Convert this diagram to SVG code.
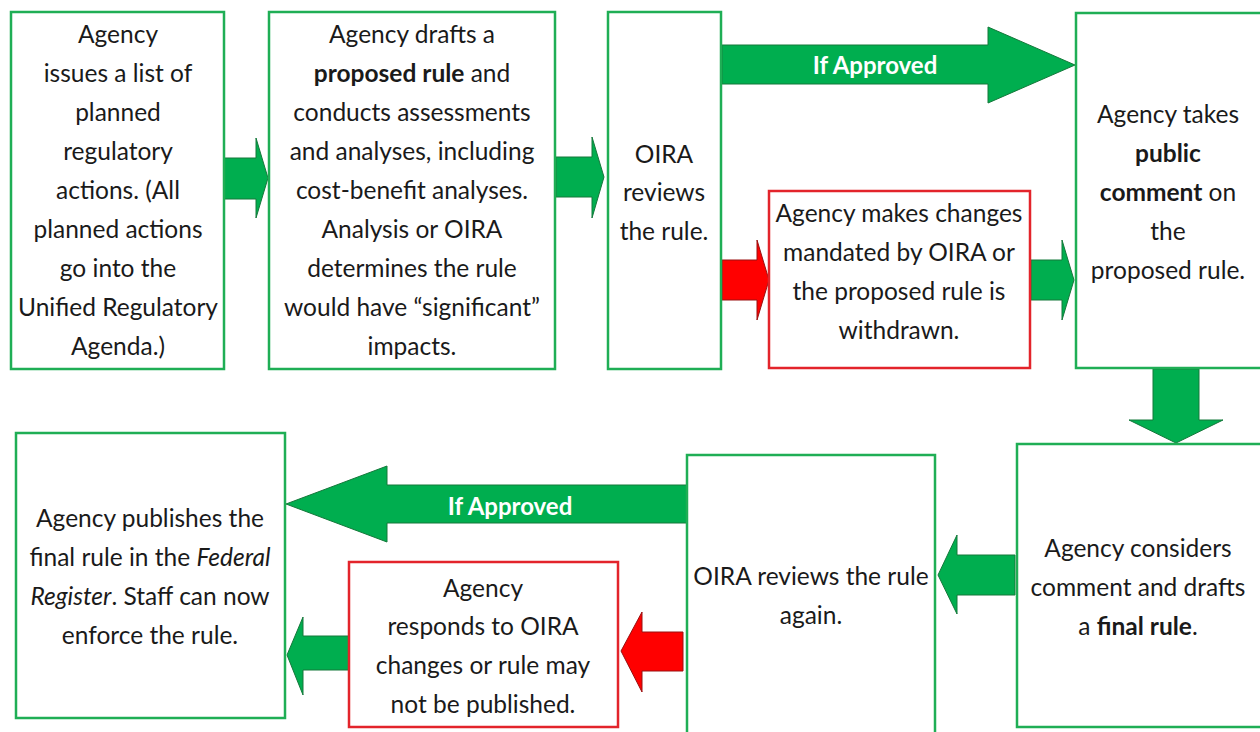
<svg xmlns="http://www.w3.org/2000/svg" width="1260" height="732" viewBox="0 0 1260 732">
<style>
.g{fill:#fff;stroke:#1fae55;stroke-width:2.5}
.r{fill:#fff;stroke:#e3242b;stroke-width:2.5}
.ga{fill:#00ae4f;stroke:#14783a;stroke-width:1}
.ra{fill:#ff0000;stroke:#9a1010;stroke-width:1}
text{font-family:Lato,"Liberation Sans",sans-serif;font-size:24.5px;fill:#1a1a1a;text-anchor:middle}
.b{font-weight:bold}
.i{font-style:italic}
.lbl{fill:#fff;font-weight:bold;font-size:24px}
</style>
<rect width="1260" height="732" fill="#fff"/>
<g id="connectors">
<polygon class="ga" points="224,158 256,158 256,138 268,178 256,218 256,199 224,199"/>
<polygon class="ga" points="556,157 592,157 592,137 604,177 592,218 592,197 556,197"/>
<polygon class="ga" points="722,45 988,45 988,27 1075,65 988,103 988,84 722,84"/>
<polygon class="ra" points="722,260 757,260 757,240 769,280 757,320 757,300 722,300"/>
<polygon class="ga" points="1031,260 1062,260 1062,240 1074,280 1062,320 1062,300 1031,300"/>
<polygon class="ga" points="1153,369 1199,369 1199,420 1223,420 1176,443 1129,420 1153,420"/>
<polygon class="ga" points="1015,555 957,555 957,535 938,575 957,614 957,595 1015,595"/>
<polygon class="ga" points="687,485 387,485 387,466 286,504 387,542 387,523 687,523"/>
<polygon class="ra" points="683,632 642,632 642,612 621,651 642,692 642,671 683,671"/>
<polygon class="ga" points="349,636 303,636 303,617 287,655 303,695 303,670 349,670"/>
<text class="lbl" x="875" y="74">If Approved</text>
<text class="lbl" x="510" y="515">If Approved</text>
</g>
<g id="n1">
<rect class="g" x="11" y="12" width="213" height="357"/>
<text x="118" y="43">Agency</text>
<text x="118" y="82">issues a list of</text>
<text x="118" y="121">planned</text>
<text x="118" y="160">regulatory</text>
<text x="118" y="199">actions. (All</text>
<text x="118" y="238">planned actions</text>
<text x="118" y="277">go into the</text>
<text x="118" y="316">Unified Regulatory</text>
<text x="118" y="355">Agenda.)</text>
</g>
<g id="n2">
<rect class="g" x="269" y="12" width="286" height="357"/>
<text x="412" y="43">Agency drafts a</text>
<text x="412" y="82"><tspan class="b">proposed rule</tspan> and</text>
<text x="412" y="121">conducts assessments</text>
<text x="412" y="160">and analyses, including</text>
<text x="412" y="199">cost-benefit analyses.</text>
<text x="412" y="238">Analysis or OIRA</text>
<text x="412" y="277">determines the rule</text>
<text x="412" y="316">would have “significant”</text>
<text x="412" y="355">impacts.</text>
</g>
<g id="n3">
<rect class="g" x="608" y="12" width="113" height="357"/>
<text x="664" y="163">OIRA</text>
<text x="664" y="201">reviews</text>
<text x="664" y="240">the rule.</text>
</g>
<g id="n4">
<rect class="r" x="769" y="191" width="261" height="177"/>
<text x="899" y="222">Agency makes changes</text>
<text x="899" y="261">mandated by OIRA or</text>
<text x="899" y="300">the proposed rule is</text>
<text x="899" y="339">withdrawn.</text>
</g>
<g id="n5">
<rect class="g" x="1076" y="13" width="190" height="355"/>
<text x="1168" y="123">Agency takes</text>
<text x="1168" y="162" class="b">public</text>
<text x="1168" y="201"><tspan class="b">comment</tspan> on</text>
<text x="1168" y="240">the</text>
<text x="1168" y="279">proposed rule.</text>
</g>
<g id="n6">
<rect class="g" x="1017" y="444" width="250" height="283"/>
<text x="1138" y="557">Agency considers</text>
<text x="1138" y="596">comment and drafts</text>
<text x="1138" y="635">a <tspan class="b">final rule</tspan>.</text>
</g>
<g id="n7">
<rect class="g" x="687" y="455" width="248" height="285"/>
<text x="811" y="585">OIRA reviews the rule</text>
<text x="811" y="624">again.</text>
</g>
<g id="n8">
<rect class="r" x="349" y="562" width="269" height="165"/>
<text x="483" y="597">Agency</text>
<text x="483" y="635">responds to OIRA</text>
<text x="483" y="674">changes or rule may</text>
<text x="483" y="713">not be published.</text>
</g>
<g id="n9">
<rect class="g" x="16" y="433" width="269" height="285"/>
<text x="150" y="527">Agency publishes the</text>
<text x="150" y="566">final rule in the <tspan class="i">Federal</tspan></text>
<text x="150" y="605"><tspan class="i">Register</tspan>. Staff can now</text>
<text x="150" y="644">enforce the rule.</text>
</g>
</svg>
